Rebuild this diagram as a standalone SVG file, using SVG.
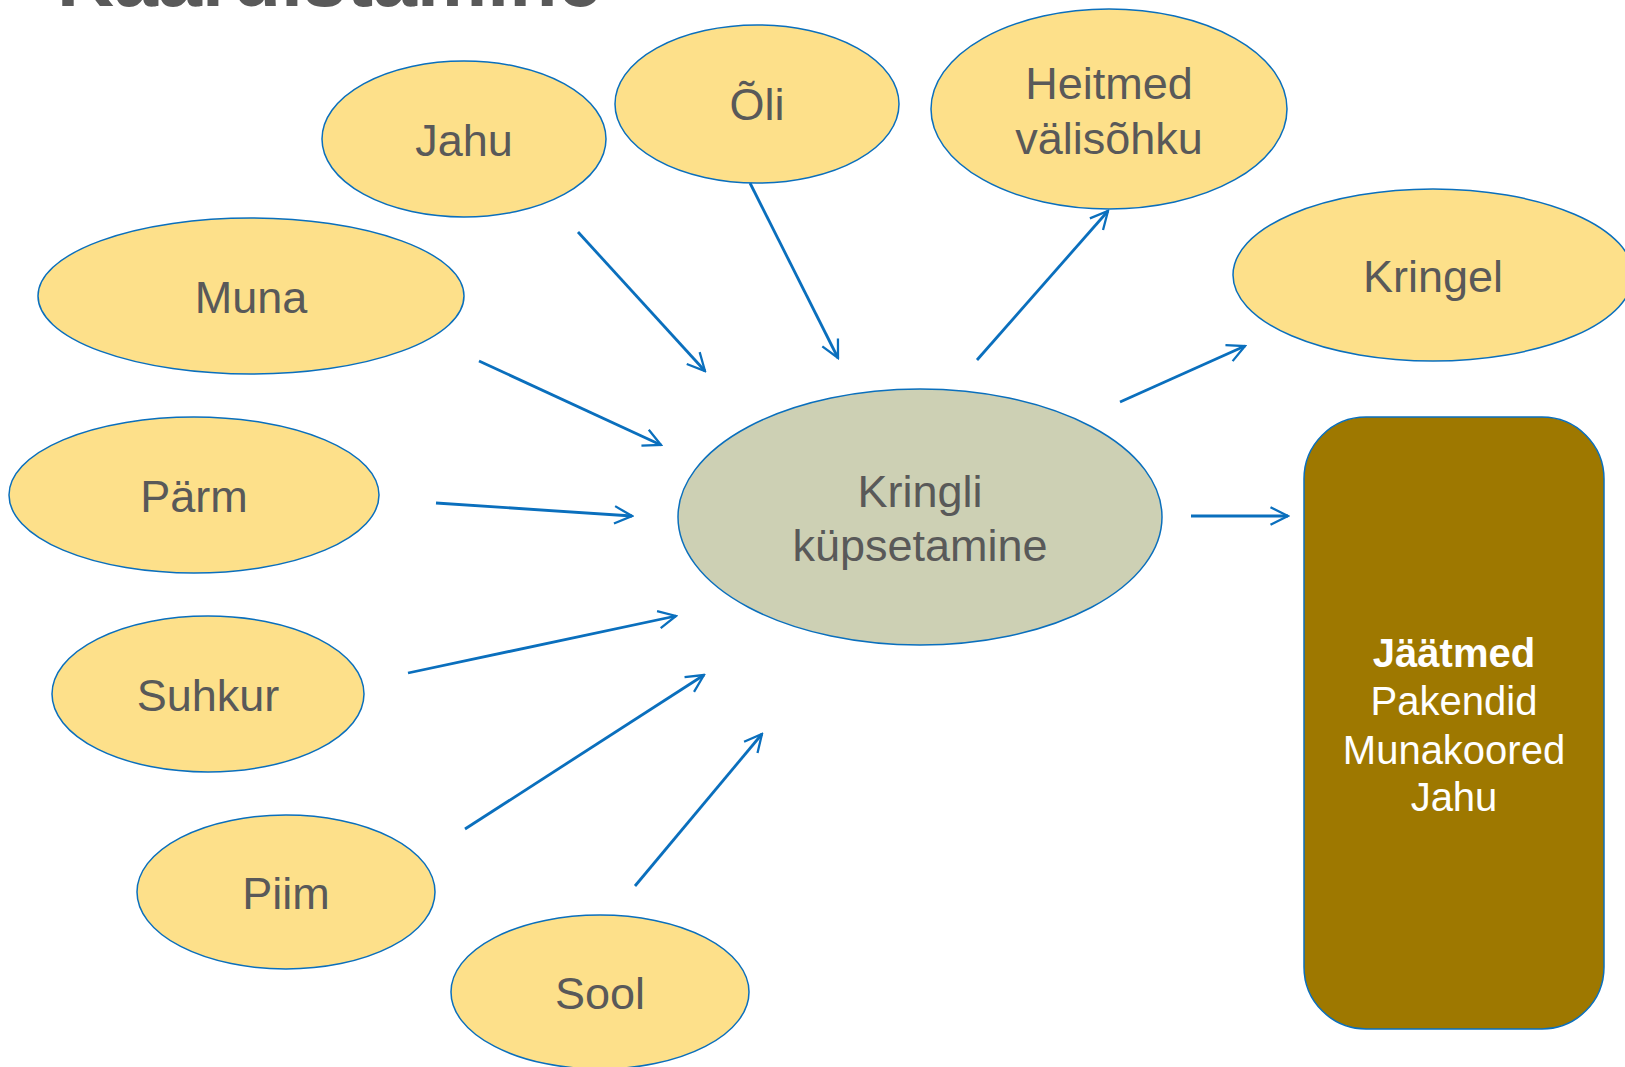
<svg xmlns="http://www.w3.org/2000/svg" width="1625" height="1067" viewBox="0 0 1625 1067">
<defs>
<style>
.n{fill:#FDE08A;stroke:#0A6FBD;stroke-width:1.5}
.c{fill:#CDD0B4;stroke:#0A6FBD;stroke-width:1.5}
.t{font-family:"Liberation Sans",Arial,sans-serif;font-size:45px;fill:#595959;text-anchor:middle}
.w{font-family:"Liberation Sans",Arial,sans-serif;font-size:40px;fill:#FFFFFF;text-anchor:middle}
.e{stroke:#0A6FBD;stroke-width:2.8;fill:none;marker-end:url(#ah)}
</style>
<marker id="ah" viewBox="0 0 12 12" refX="11" refY="6" markerWidth="7.5" markerHeight="7.5" markerUnits="strokeWidth" orient="auto">
<path d="M1,1 L11,6 L1,11" fill="none" stroke="#0A6FBD" stroke-width="1.3"/>
</marker>
</defs>
<rect width="1625" height="1067" fill="#FFFFFF"/>
<text x="57" y="6" font-family="Liberation Sans,Arial,sans-serif" font-size="79" font-weight="bold" fill="#595959">Kaardistamine</text>
<g id="connectors">
<line class="e" x1="578" y1="232" x2="705" y2="371"/>
<line class="e" x1="750" y1="183" x2="838" y2="358"/>
<line class="e" x1="977" y1="360" x2="1108" y2="211"/>
<line class="e" x1="1120" y1="402" x2="1245" y2="346"/>
<line class="e" x1="1191" y1="516" x2="1288" y2="516"/>
<line class="e" x1="479" y1="361" x2="661" y2="445"/>
<line class="e" x1="436" y1="503" x2="632" y2="516"/>
<line class="e" x1="408" y1="673" x2="676" y2="616"/>
<line class="e" x1="465" y1="829" x2="704" y2="675"/>
<line class="e" x1="635" y1="886" x2="762" y2="734"/>
</g>
<g id="jahu"><ellipse class="n" cx="464" cy="139" rx="142" ry="78"/><text class="t" x="464" y="156">Jahu</text></g>
<g id="oli"><ellipse class="n" cx="757" cy="104" rx="142" ry="79"/><text class="t" x="757" y="120">Õli</text></g>
<g id="heitmed"><ellipse class="n" cx="1109" cy="109" rx="178" ry="100"/><text class="t" x="1109" y="99">Heitmed</text><text class="t" x="1109" y="154">välisõhku</text></g>
<g id="kringel"><ellipse class="n" cx="1433" cy="275" rx="200" ry="86"/><text class="t" x="1433" y="292">Kringel</text></g>
<g id="muna"><ellipse class="n" cx="251" cy="296" rx="213" ry="78"/><text class="t" x="251" y="313">Muna</text></g>
<g id="parm"><ellipse class="n" cx="194" cy="495" rx="185" ry="78"/><text class="t" x="194" y="512">Pärm</text></g>
<g id="suhkur"><ellipse class="n" cx="208" cy="694" rx="156" ry="78"/><text class="t" x="208" y="711">Suhkur</text></g>
<g id="piim"><ellipse class="n" cx="286" cy="892" rx="149" ry="77"/><text class="t" x="286" y="909">Piim</text></g>
<g id="sool"><ellipse class="n" cx="600" cy="992" rx="149" ry="77"/><text class="t" x="600" y="1009">Sool</text></g>
<g id="center"><ellipse class="c" cx="920" cy="517" rx="242" ry="128"/><text class="t" x="920" y="507">Kringli</text><text class="t" x="920" y="561">küpsetamine</text></g>
<g id="jaatmed"><rect x="1304" y="417" width="300" height="612" rx="62" ry="62" fill="#9E7800" stroke="#0A6FBD" stroke-width="1.5"/>
<text class="w" x="1454" y="667" font-weight="bold">Jäätmed</text>
<text class="w" x="1454" y="715">Pakendid</text>
<text class="w" x="1454" y="764">Munakoored</text>
<text class="w" x="1454" y="811">Jahu</text></g>
</svg>
